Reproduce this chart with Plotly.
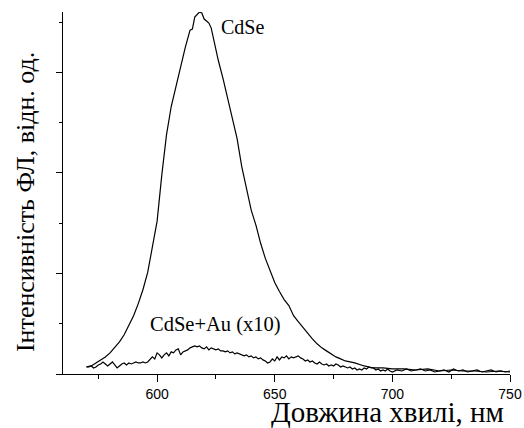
import plotly.graph_objects as go

# CdSe photoluminescence spectrum
cdse_wl = [570, 572, 574, 576, 578, 580, 582, 584, 586, 588, 590, 592, 594, 596, 598,
           600, 602, 604, 606, 608, 610, 612, 614, 615, 616, 617, 618, 619, 620, 621,
           622, 623, 624, 626, 628, 630, 632, 634, 636, 638, 640, 642, 644, 646, 648,
           650, 652, 654, 656, 658, 660, 662, 664, 666, 668, 670, 672, 674, 676, 678,
           680, 684, 688, 692, 696, 700, 705, 710, 715, 720, 725, 730, 735, 740, 745, 750]
cdse_int = [0.07, 0.08, 0.11, 0.14, 0.17, 0.21, 0.26, 0.32, 0.39, 0.48, 0.58, 0.70, 0.84, 1.01, 1.25,
            1.52, 1.98, 2.38, 2.66, 2.86, 3.06, 3.25, 3.42, 3.43, 3.55, 3.58, 3.60, 3.59, 3.53, 3.51,
            3.49, 3.44, 3.33, 3.12, 2.94, 2.75, 2.55, 2.34, 2.06, 1.83, 1.63, 1.48, 1.30, 1.15, 1.02,
            0.91, 0.82, 0.74, 0.68, 0.58, 0.52, 0.46, 0.41, 0.35, 0.30, 0.26, 0.23, 0.20, 0.17, 0.15,
            0.13, 0.11, 0.08, 0.06, 0.06, 0.05, 0.05, 0.04, 0.05, 0.03, 0.04, 0.03, 0.03, 0.02, 0.03, 0.02]

# CdSe+Au spectrum (x10)
au_wl = list(range(570, 700)) + list(range(700, 751, 2))
au_int = [0.07, 0.07, 0.08, 0.06, 0.07, 0.09, 0.10, 0.12, 0.10, 0.08,
          0.10, 0.12, 0.09, 0.06, 0.08, 0.10, 0.11, 0.09, 0.11, 0.10,
          0.11, 0.12, 0.11, 0.11, 0.12, 0.11, 0.12, 0.15, 0.17, 0.15,
          0.21, 0.19, 0.16, 0.19, 0.21, 0.18, 0.22, 0.21, 0.24, 0.25,
          0.19, 0.22, 0.23, 0.24, 0.26, 0.27, 0.28, 0.27, 0.28, 0.26,
          0.25, 0.27, 0.24, 0.26, 0.25, 0.24, 0.25, 0.23, 0.23, 0.22,
          0.23, 0.21, 0.22, 0.20, 0.21, 0.20, 0.19, 0.18, 0.19, 0.17,
          0.18, 0.16, 0.17, 0.15, 0.16, 0.14, 0.13, 0.11, 0.12, 0.15,
          0.13, 0.17, 0.14, 0.17, 0.16, 0.18, 0.15, 0.17, 0.16, 0.17,
          0.18, 0.16, 0.15, 0.13, 0.14, 0.12, 0.13, 0.11, 0.10, 0.12,
          0.10, 0.09, 0.10, 0.08, 0.09, 0.08, 0.10, 0.09, 0.07, 0.08,
          0.07, 0.06, 0.07, 0.05, 0.06, 0.04, 0.05, 0.04, 0.06, 0.05,
          0.07, 0.06, 0.06, 0.04, 0.05, 0.03, 0.04, 0.03, 0.05, 0.03,
          0.02, 0.04, 0.03, 0.05, 0.03, 0.04, 0.05, 0.03, 0.04, 0.02,
          0.03, 0.04, 0.02, 0.05, 0.03, 0.04, 0.02, 0.03, 0.04, 0.02,
          0.03, 0.04, 0.02, 0.03, 0.02, 0.03]

x_ticks = [600, 650, 700, 750]
x_tick_labels = ["600", "650", "700", "750"]

serif = "Liberation Serif, Times New Roman, serif"
sans = "Liberation Sans, Arial, sans-serif"

fig = go.Figure()
fig.add_trace(go.Scatter(x=cdse_wl, y=cdse_int, mode="lines",
                         line=dict(color="black", width=1.2), showlegend=False))
fig.add_trace(go.Scatter(x=au_wl, y=au_int, mode="lines",
                         line=dict(color="black", width=1.2), showlegend=False))

fig.update_layout(
    width=524, height=428,
    margin=dict(l=63, r=14, t=12, b=54, autoexpand=False),
    paper_bgcolor="white", plot_bgcolor="white",
    xaxis=dict(range=[560, 750], tickvals=x_ticks, ticktext=x_tick_labels,
               automargin=False,
               showline=True, linecolor="black", linewidth=1.2,
               ticks="outside", ticklen=7, tickwidth=1, tickcolor="black",
               minor=dict(dtick=25, tick0=0, ticks="outside", ticklen=4, tickcolor="black"),
               showgrid=False, zeroline=False,
               tickfont=dict(family=sans, size=14, color="black")),
    yaxis=dict(range=[0, 3.6], dtick=1, tick0=0, automargin=False,
               showline=True, linecolor="black", linewidth=1.2,
               ticks="outside", ticklen=6, tickwidth=1, tickcolor="black",
               minor=dict(dtick=0.5, tick0=0, ticks="outside", ticklen=3, tickcolor="black"),
               showgrid=False, zeroline=False, showticklabels=False),
    annotations=[
        dict(text="CdSe", x=626.5, y=3.45, xref="x", yref="y", showarrow=False,
             xanchor="left", yanchor="middle", font=dict(family=serif, size=20, color="black")),
        dict(text="CdSe+Au (x10)", x=596.0, y=0.49, xref="x", yref="y", showarrow=False,
             xanchor="left", yanchor="middle", font=dict(family=serif, size=20.5, color="black")),
        dict(text="Довжина хвилі, нм", x=0.727, y=-0.106, xref="paper", yref="paper",
             showarrow=False, xanchor="center", yanchor="middle",
             font=dict(family=serif, size=29, color="black")),
        dict(text="Інтенсивність ФЛ, відн. од.", x=-0.085, y=0.475, xref="paper", yref="paper",
             showarrow=False, xanchor="center", yanchor="middle", textangle=-90,
             font=dict(family=serif, size=26, color="black")),
    ],
)

fig.write_html("out.html", config={"displayModeBar": False},
               post_script="document.body.style.margin='0';document.body.style.overflow='hidden';")
